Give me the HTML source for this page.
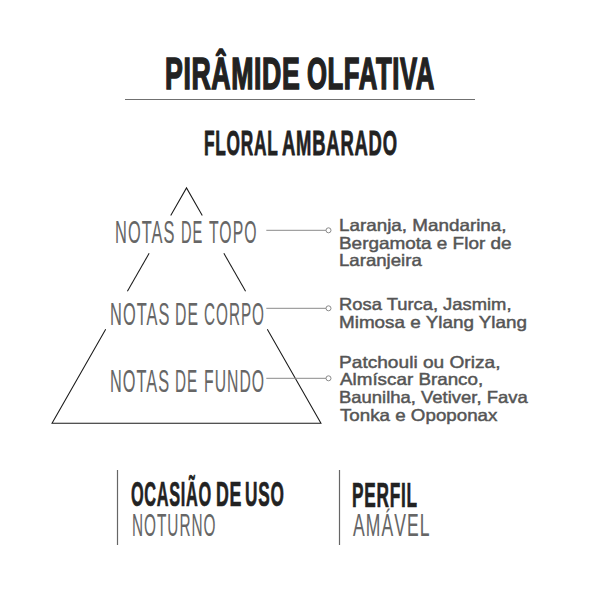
<!DOCTYPE html>
<html><head><meta charset="utf-8">
<style>
html,body{margin:0;padding:0;background:#fff;}
body{width:600px;height:600px;position:relative;overflow:hidden;font-family:"Liberation Sans",sans-serif;}
.t{position:absolute;white-space:nowrap;line-height:1;transform-origin:0 0;}
svg{position:absolute;left:0;top:0;}
</style></head><body>
<svg width="600" height="600" viewBox="0 0 600 600">
<line x1="125" y1="99.5" x2="475" y2="99.5" stroke="#707070" stroke-width="1"/>
<g stroke="#1a1a1a" stroke-width="1.05" fill="none">
<polyline points="170.73,215.50 186.50,187.90 202.27,215.50" stroke-linejoin="miter"/>
<line x1="149.13" y1="253.30" x2="127.42" y2="291.30"/>
<line x1="223.87" y1="253.30" x2="245.58" y2="291.30"/>
<polyline points="105.70,329.30 52.05,423.20 320.95,423.20 267.30,329.30" stroke-linejoin="miter"/>
</g>
<g stroke="#8a8a8a" stroke-width="1" fill="#fff">
<line x1="266.3" y1="230.3" x2="326.0" y2="230.3"/><circle cx="328.5" cy="230.3" r="2.5"/>
<line x1="266.3" y1="308.3" x2="326.0" y2="308.3"/><circle cx="328.5" cy="308.3" r="2.5"/>
<line x1="266.3" y1="378.3" x2="326.0" y2="378.3"/><circle cx="328.5" cy="378.3" r="2.5"/>
</g>
<g stroke="#666" stroke-width="1.2">
<line x1="117.5" y1="470" x2="117.5" y2="545"/>
<line x1="339.5" y1="470" x2="339.5" y2="545"/>
</g>
</svg>
<div class="t" id="title_0" style="left:164.98px;top:52.36px;font-size:44.53px;transform:scaleX(0.5999);letter-spacing:1.0px;-webkit-text-stroke:1.6px #222;color:#222;font-weight:bold">PIRÂMIDE</div>
<div class="t" id="title_1" style="left:307.02px;top:52.36px;font-size:44.53px;transform:scaleX(0.5772);letter-spacing:1.0px;-webkit-text-stroke:1.6px #222;color:#222;font-weight:bold">OLFATIVA</div>
<div class="t" id="floral_0" style="left:204.03px;top:125.25px;font-size:35.10px;transform:scaleX(0.4933);letter-spacing:1.5px;-webkit-text-stroke:0.8px #222;color:#222;font-weight:bold">FLORAL</div>
<div class="t" id="floral_1" style="left:282.00px;top:125.25px;font-size:35.10px;transform:scaleX(0.5251);letter-spacing:1.5px;-webkit-text-stroke:0.8px #222;color:#222;font-weight:bold">AMBARADO</div>
<div class="t" id="topo_0" style="left:114.98px;top:217.50px;font-size:30.80px;transform:scaleX(0.5322);letter-spacing:2.0px;-webkit-text-stroke:0.1px #666;color:#666;font-weight:normal">NOTAS</div>
<div class="t" id="topo_1" style="left:181.09px;top:217.50px;font-size:30.80px;transform:scaleX(0.4752);letter-spacing:2.0px;-webkit-text-stroke:0.1px #666;color:#666;font-weight:normal">DE</div>
<div class="t" id="topo_2" style="left:209.00px;top:217.50px;font-size:30.80px;transform:scaleX(0.5118);letter-spacing:2.0px;-webkit-text-stroke:0.1px #666;color:#666;font-weight:normal">TOPO</div>
<div class="t" id="corpo_0" style="left:109.96px;top:299.50px;font-size:30.80px;transform:scaleX(0.5317);letter-spacing:2.0px;-webkit-text-stroke:0.1px #666;color:#666;font-weight:normal">NOTAS</div>
<div class="t" id="corpo_1" style="left:175.00px;top:299.50px;font-size:30.80px;transform:scaleX(0.5129);letter-spacing:2.0px;-webkit-text-stroke:0.1px #666;color:#666;font-weight:normal">DE</div>
<div class="t" id="corpo_2" style="left:204.03px;top:299.50px;font-size:30.80px;transform:scaleX(0.4958);letter-spacing:2.0px;-webkit-text-stroke:0.1px #666;color:#666;font-weight:normal">CORPO</div>
<div class="t" id="fundo_0" style="left:109.98px;top:366.50px;font-size:30.80px;transform:scaleX(0.5293);letter-spacing:2.0px;-webkit-text-stroke:0.1px #666;color:#666;font-weight:normal">NOTAS</div>
<div class="t" id="fundo_1" style="left:175.05px;top:366.50px;font-size:30.80px;transform:scaleX(0.4963);letter-spacing:2.0px;-webkit-text-stroke:0.1px #666;color:#666;font-weight:normal">DE</div>
<div class="t" id="fundo_2" style="left:204.02px;top:366.50px;font-size:30.80px;transform:scaleX(0.5111);letter-spacing:2.0px;-webkit-text-stroke:0.1px #666;color:#666;font-weight:normal">FUNDO</div>
<div class="t" id="r1" style="left:338.88px;top:216.97px;font-size:16.50px;transform:scaleX(1.1415);-webkit-text-stroke:0.45px #555;color:#555;font-weight:normal">Laranja, Mandarina,</div>
<div class="t" id="r2" style="left:338.88px;top:234.52px;font-size:16.50px;transform:scaleX(1.1470);-webkit-text-stroke:0.45px #555;color:#555;font-weight:normal">Bergamota e Flor de</div>
<div class="t" id="r3" style="left:338.91px;top:251.83px;font-size:16.50px;transform:scaleX(1.1275);-webkit-text-stroke:0.45px #555;color:#555;font-weight:normal">Laranjeira</div>
<div class="t" id="r4" style="left:338.91px;top:295.83px;font-size:16.50px;transform:scaleX(1.1131);-webkit-text-stroke:0.45px #555;color:#555;font-weight:normal">Rosa Turca, Jasmim,</div>
<div class="t" id="r5" style="left:338.88px;top:313.52px;font-size:16.50px;transform:scaleX(1.1430);-webkit-text-stroke:0.45px #555;color:#555;font-weight:normal">Mimosa e Ylang Ylang</div>
<div class="t" id="r6" style="left:338.85px;top:353.52px;font-size:16.50px;transform:scaleX(1.1583);-webkit-text-stroke:0.45px #555;color:#555;font-weight:normal">Patchouli ou Oriza,</div>
<div class="t" id="r7" style="left:339.97px;top:371.22px;font-size:16.50px;transform:scaleX(1.1401);-webkit-text-stroke:0.45px #555;color:#555;font-weight:normal">Almíscar Branco,</div>
<div class="t" id="r8" style="left:338.90px;top:388.82px;font-size:16.50px;transform:scaleX(1.1178);-webkit-text-stroke:0.45px #555;color:#555;font-weight:normal">Baunilha, Vetiver, Fava</div>
<div class="t" id="r9" style="left:340.00px;top:406.80px;font-size:16.50px;transform:scaleX(1.1362);-webkit-text-stroke:0.45px #555;color:#555;font-weight:normal">Tonka e Opoponax</div>
<div class="t" id="ocasiao_0" style="left:131.00px;top:477.36px;font-size:35.52px;transform:scaleX(0.4592);letter-spacing:1.5px;-webkit-text-stroke:0.7px #222;color:#222;font-weight:bold">OCASIÃO</div>
<div class="t" id="ocasiao_1" style="left:215.91px;top:477.36px;font-size:35.52px;transform:scaleX(0.5010);letter-spacing:1.5px;-webkit-text-stroke:0.7px #222;color:#222;font-weight:bold">DE</div>
<div class="t" id="ocasiao_2" style="left:244.94px;top:477.36px;font-size:35.52px;transform:scaleX(0.4855);letter-spacing:1.5px;-webkit-text-stroke:0.7px #222;color:#222;font-weight:bold">USO</div>
<div class="t" id="noturno" style="left:132.07px;top:509.87px;font-size:31.84px;transform:scaleX(0.4829);letter-spacing:2.0px;-webkit-text-stroke:0.1px #666;color:#666;font-weight:normal">NOTURNO</div>
<div class="t" id="perfil" style="left:352.01px;top:478.36px;font-size:35.52px;transform:scaleX(0.4858);letter-spacing:1.5px;-webkit-text-stroke:0.7px #222;color:#222;font-weight:bold">PERFIL</div>
<div class="t" id="amavel" style="left:353.00px;top:509.48px;font-size:32.00px;transform:scaleX(0.5474);letter-spacing:2.0px;-webkit-text-stroke:0.1px #666;color:#666;font-weight:normal">AMÁVEL</div>
</body></html>
